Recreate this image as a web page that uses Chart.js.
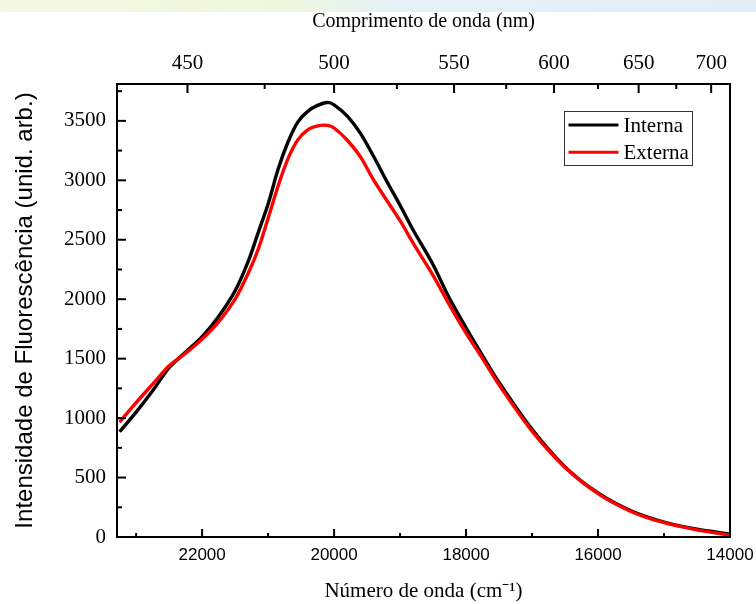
<!DOCTYPE html>
<html>
<head>
<meta charset="utf-8">
<script src="https://cdn.jsdelivr.net/npm/chart.js@4.4.0/dist/chart.umd.min.js"></script>
<style>
    body { margin: 0; background: #fff; }
    #band { position: absolute; left: 0; top: 0; width: 756px; height: 12px;
        background: linear-gradient(to right, #f3f8e4 0%, #eff6df 38%, #e5f1f6 52%, #e2eef6 100%); }
    #wrap { position: relative; width: 756px; height: 604px; }
</style>
</head>
<body>
<div id="wrap">
    <div id="band"></div>
    <canvas id="spectrum" width="756" height="604"></canvas>
</div>
<script>
// wavenumber (cm-1) shared by both spectra
var waveNumber = [23250, 23000, 22750, 22500, 22250, 22000, 21750, 21500, 21300, 21150,
    21000, 20850, 20700, 20550, 20400, 20250, 20100, 20000, 19800, 19600,
    19400, 19200, 19000, 18800, 18500, 18250, 18000, 17750, 17500, 17000,
    16500, 16000, 15500, 15000, 14500, 14000];
var interna = [885, 1050, 1230, 1425, 1555, 1685, 1855, 2070, 2320, 2560,
    2800, 3090, 3320, 3490, 3580, 3630, 3655, 3635, 3540, 3395,
    3200, 2990, 2790, 2580, 2290, 2005, 1760, 1525, 1300, 905,
    590, 370, 220, 125, 65, 25];
var externa = [967, 1130, 1285, 1440, 1545, 1665, 1810, 2000, 2220, 2420,
    2680, 2950, 3180, 3340, 3425, 3458, 3462, 3440, 3337, 3197,
    3001, 2830, 2660, 2470, 2200, 1950, 1715, 1500, 1280, 890,
    585, 365, 215, 120, 60, 15];

var bottomTicks = [22000, 20000, 18000, 16000, 14000];
var bottomMinor = [23000, 21000, 19000, 17000, 15000];
var topTicksNm = [450, 500, 550, 600, 650, 700];
var topMinorNm = [475, 525, 575, 625, 675];
var yTicks = [0, 500, 1000, 1500, 2000, 2500, 3000, 3500];
var yMinor = [250, 750, 1250, 1750, 2250, 2750, 3250, 3750];

var xMin = 14000, xMax = 23290, yMax = 3810;

function toPoints(values) {
    return values.map(function (v, i) { return { x: waveNumber[i], y: v }; });
}

var serif = "'Liberation Serif', 'Times New Roman', serif";
var sans = "'Liberation Sans', Arial, sans-serif";

// frame, inward ticks and legend box
var framePlugin = {
    id: "frame",
    afterDraw: function (chart) {
        var c = chart.ctx, a = chart.chartArea;
        var xs = chart.scales.x, xt = chart.scales.xTop, ys = chart.scales.y;
        c.save();
        c.strokeStyle = "#000";
        c.lineWidth = 2;
        c.strokeRect(a.left, a.top, a.right - a.left, a.bottom - a.top);

        function tickX(scale, v, y, len) {
            var px = scale.getPixelForValue(v);
            c.beginPath(); c.moveTo(px, y); c.lineTo(px, y + len); c.stroke();
        }
        function tickY(v, len) {
            var py = ys.getPixelForValue(v);
            c.beginPath(); c.moveTo(a.left, py); c.lineTo(a.left + len, py); c.stroke();
        }
        bottomTicks.forEach(function (v) { tickX(xs, v, a.bottom, -8); });
        bottomMinor.forEach(function (v) { tickX(xs, v, a.bottom, -4); });
        topTicksNm.forEach(function (nm) { tickX(xt, 1e7 / nm, a.top, 9); });
        topMinorNm.forEach(function (nm) { tickX(xt, 1e7 / nm, a.top, 5); });
        yTicks.forEach(function (v) { tickY(v, 9); });
        yMinor.forEach(function (v) { if (v < yMax) tickY(v, 5); });

        // legend
        var lx = 564.5, ly = 111.5, lw = 128, lh = 54;
        c.fillStyle = "#fff";
        c.fillRect(lx, ly, lw, lh);
        c.lineWidth = 1;
        c.strokeStyle = "#333";
        c.strokeRect(lx, ly, lw, lh);
        c.font = "21px " + serif;
        c.textBaseline = "middle";
        chart.data.datasets.forEach(function (ds, i) {
            var yy = ly + 13.5 + i * 27.3;
            c.strokeStyle = ds.borderColor;
            c.lineWidth = 3;
            c.beginPath(); c.moveTo(lx + 4, yy); c.lineTo(lx + 54, yy); c.stroke();
            c.fillStyle = "#000";
            c.fillText(ds.label, lx + 59, yy + 1);
        });
        c.restore();
    }
};

new Chart(document.getElementById("spectrum"), {
    type: "line",
    data: {
        datasets: [
            {
                label: "Interna",
                data: toPoints(interna),
                borderColor: "#000000",
                borderWidth: 3.4,
                pointRadius: 0,
                tension: 0.3,
                order: 2,
            },
            {
                label: "Externa",
                data: toPoints(externa),
                borderColor: "#ff0000",
                borderWidth: 3.4,
                pointRadius: 0,
                tension: 0.3,
                order: 1,
            },
        ],
    },
    plugins: [framePlugin],
    options: {
        responsive: false,
        animation: false,
        layout: { padding: { left: 0, right: 26, top: 0, bottom: 0 } },
        plugins: { legend: { display: false }, tooltip: { enabled: false } },
        scales: {
            x: {
                type: "linear",
                position: "bottom",
                min: xMin,
                max: xMax,
                reverse: true,
                afterBuildTicks: function (scale) {
                    scale.ticks = bottomTicks.map(function (v) { return { value: v }; });
                },
                afterFit: function (scale) {
                    scale.height = 67;
                    scale.paddingLeft = 0;
                    scale.paddingRight = 0;
                },
                grid: { display: false, drawTicks: false },
                border: { display: false },
                ticks: {
                    autoSkip: false,
                    maxRotation: 0,
                    padding: 8,
                    color: "#000",
                    font: { family: sans, size: 17 },
                    callback: function (v) { return String(v); },
                },
                title: {
                    display: true,
                    text: "Número de onda (cm⁻¹)",
                    color: "#000",
                    font: { family: serif, size: 21 },
                    padding: { top: 0, bottom: 0 },
                },
            },
            xTop: {
                type: "linear",
                position: "top",
                min: xMin,
                max: xMax,
                reverse: true,
                afterBuildTicks: function (scale) {
                    scale.ticks = topTicksNm.map(function (nm) { return { value: 1e7 / nm }; });
                },
                afterFit: function (scale) {
                    scale.height = 84;
                    scale.paddingLeft = 0;
                    scale.paddingRight = 0;
                },
                grid: { display: false, drawTicks: false },
                border: { display: false },
                ticks: {
                    autoSkip: false,
                    maxRotation: 0,
                    padding: 8,
                    color: "#000",
                    font: { family: serif, size: 21 },
                    callback: function (v) { return String(Math.round(1e7 / v)); },
                },
                title: {
                    display: true,
                    text: "Comprimento de onda (nm)",
                    color: "#000",
                    font: { family: serif, size: 20 },
                    padding: { top: 10, bottom: 0 },
                },
            },
            y: {
                type: "linear",
                position: "left",
                min: 0,
                max: yMax,
                afterBuildTicks: function (scale) {
                    scale.ticks = yTicks.map(function (v) { return { value: v }; });
                },
                afterFit: function (scale) { scale.width = 117; },
                grid: { display: false, drawTicks: false },
                border: { display: false },
                ticks: {
                    padding: 11,
                    color: "#000",
                    font: { family: serif, size: 21 },
                    callback: function (v) { return String(v); },
                },
                title: {
                    display: true,
                    text: "Intensidade de Fluorescência (unid. arb.)",
                    color: "#000",
                    font: { family: sans, size: 24 },
                    padding: { top: 11, bottom: 0 },
                },
            },
        },
    },
});
</script>
</body>
</html>
